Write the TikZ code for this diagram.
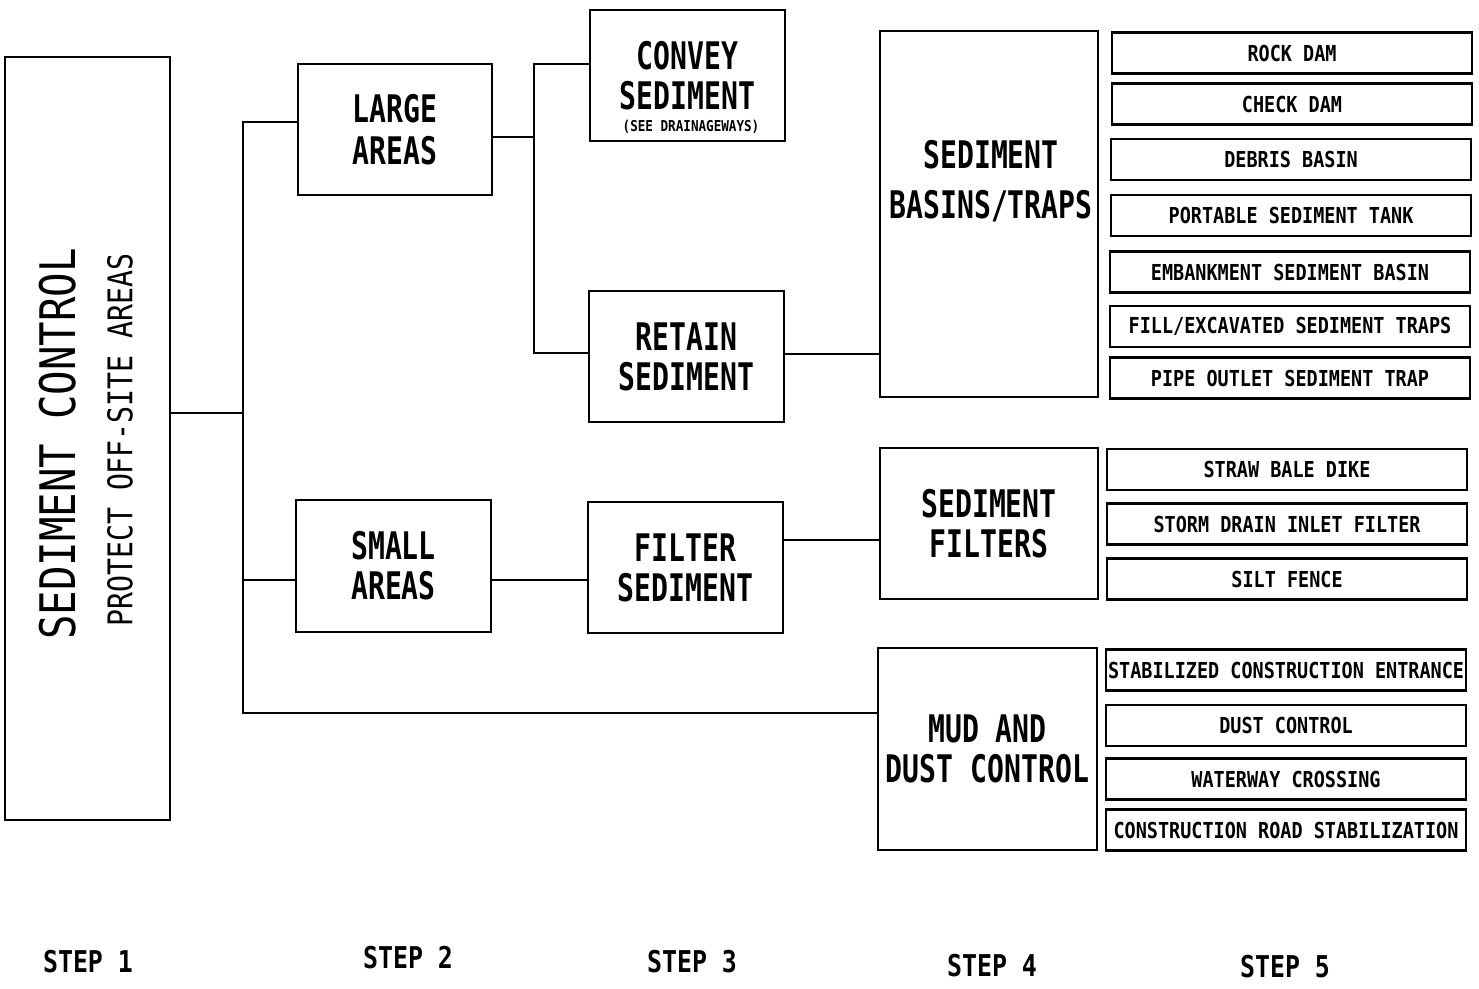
\documentclass[tikz,border=0pt]{standalone}
\usepackage{fontspec}
\newfontfamily\fA[FakeStretch=0.74]{DejaVu Sans Mono}
\newfontfamily\fB[FakeStretch=0.83]{DejaVu Sans Mono}
\newfontfamily\fC[FakeStretch=0.84]{DejaVu Sans Mono}
\begin{document}
\begin{tikzpicture}[x=1pt,y=-1pt,
  ln/.style={line width=2.2pt},
  box/.style={draw, line width=2.2pt, inner sep=0pt, align=center,
    font=\fA\bfseries\fontsize{38}{40}\selectfont},
  boxtext/.style={inner sep=0pt, align=center, font=\fA\bfseries\fontsize{38}{50}\selectfont},
  sfive/.style={draw, line width=2.2pt, inner sep=0pt, minimum width=360pt, minimum height=41pt,
    font=\fC\bfseries\fontsize{22}{24}\selectfont},
  steplbl/.style={inner sep=0pt, font=\fB\bfseries\fontsize{30}{32}\selectfont}]
\useasboundingbox (0,0) rectangle (1479,988);

% Step 1
\node[box, minimum width=165pt, minimum height=763pt] (A) at (87.5,438.5) {};
\node[inner sep=0pt, rotate=90, font=\fB\fontsize{49}{50}\selectfont] (At1) at (58,444) {SEDIMENT CONTROL};
\node[inner sep=0pt, rotate=90, font=\fB\fontsize{34}{36}\selectfont] (At2) at (120,440) {PROTECT OFF-SITE AREAS};

% Step 2
\node[box, minimum width=194pt, minimum height=131pt] (lg) at (395,129.5) {LARGE\\[2pt]AREAS};
\node[box, minimum width=195pt, minimum height=132pt] (sm) at (393.5,566) {SMALL\\AREAS};

% Step 3
\node[box, minimum width=195pt, minimum height=131pt] (cv) at (687.5,75.5) {CONVEY\\SEDIMENT};
\node[inner sep=0pt, font=\fC\bfseries\fontsize{15}{15}\selectfont] (cvn) at (691,127) {(SEE DRAINAGEWAYS)};
\node[box, minimum width=195pt, minimum height=131pt] (rt) at (686.5,356.5) {RETAIN\\SEDIMENT};
\node[box, minimum width=195pt, minimum height=131pt] (fl) at (685.5,567.5) {FILTER\\SEDIMENT};

% Step 4
\node[box, minimum width=218pt, minimum height=366pt] (sb) at (989,214) {};
\node[boxtext] (sbt) at (991,181) {SEDIMENT\\BASINS/TRAPS};
\node[box, minimum width=218pt, minimum height=151pt] (sf) at (989,523.5) {SEDIMENT\\FILTERS};
\node[box, minimum width=219pt, minimum height=202pt] (mud) at (987.5,749) {MUD AND\\DUST CONTROL};

% Step 5
\node[sfive] (b1) at (1292,53) {ROCK DAM};
\node[sfive] (b2) at (1292,104) {CHECK DAM};
\node[sfive] (b3) at (1291,159.5) {DEBRIS BASIN};
\node[sfive] (b4) at (1291,215.5) {PORTABLE SEDIMENT TANK};
\node[sfive] (b5) at (1290,272) {EMBANKMENT SEDIMENT BASIN};
\node[sfive] (b6) at (1290,326.5) {FILL/EXCAVATED SEDIMENT TRAPS};
\node[sfive] (b7) at (1290,378) {PIPE OUTLET SEDIMENT TRAP};
\node[sfive] (b8) at (1287,469.5) {STRAW BALE DIKE};
\node[sfive] (b9) at (1287,524) {STORM DRAIN INLET FILTER};
\node[sfive] (b10) at (1287,579) {SILT FENCE};
\node[sfive] (b11) at (1286,670) {STABILIZED CONSTRUCTION ENTRANCE};
\node[sfive] (b12) at (1286,725.5) {DUST CONTROL};
\node[sfive] (b13) at (1286,779) {WATERWAY CROSSING};
\node[sfive] (b14) at (1286,830) {CONSTRUCTION ROAD STABILIZATION};

% Connectors
\coordinate (j1) at (243,413);
\coordinate (t1) at (243,122);
\coordinate (t2) at (243,580);
\coordinate (t3) at (243,713);
\draw[ln] (A.east |- j1) -- (j1);
\draw[ln] (lg.west |- t1) -- (t1) -- (t3) -- (mud.west |- t3);
\draw[ln] (t2) -- (sm.west |- t2);

\coordinate (u0) at (534,137);
\coordinate (u1) at (534,64);
\coordinate (u2) at (534,353);
\draw[ln] (lg.east |- u0) -- (u0);
\draw[ln] (cv.west |- u1) -- (u1) -- (u2) -- (rt.west |- u2);

\coordinate (r0) at (830,354);
\draw[ln] (rt.east |- r0) -- (sb.west |- r0);
\coordinate (f0) at (540,580);
\draw[ln] (sm.east |- f0) -- (fl.west |- f0);
\coordinate (g0) at (830,540);
\draw[ln] (fl.east |- g0) -- (sf.west |- g0);

% Step labels
\node[steplbl] (s1) at (88,962) {STEP 1};
\node[steplbl] (s2) at (408,958) {STEP 2};
\node[steplbl] (s3) at (692,962) {STEP 3};
\node[steplbl] (s4) at (992,966) {STEP 4};
\node[steplbl] (s5) at (1285,967) {STEP 5};
\end{tikzpicture}
\end{document}
